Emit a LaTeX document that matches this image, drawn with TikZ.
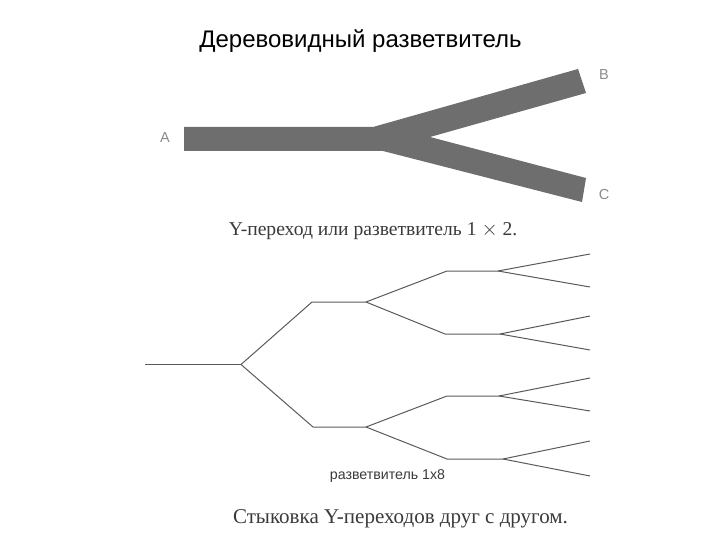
\documentclass[tikz,border=0pt]{standalone}
\usepackage{fontspec}
\setmainfont{Liberation Serif}
\setsansfont{Liberation Sans}
\definecolor{splGray}{HTML}{6E6E6E}
\definecolor{splLine}{HTML}{5A5A5A}
\definecolor{splText}{HTML}{3A3A3A}
\definecolor{splPort}{HTML}{8A8A8A}
\tikzset{
  spl title/.style={font=\sffamily\fontsize{24}{28}\selectfont, text=black},
  spl caption/.style={font=\fontsize{19.6}{22}\selectfont, text=splText},
  spl wide caption/.style={font=\fontsize{21}{24}\selectfont, text=splText},
  spl small label/.style={font=\sffamily\fontsize{14.2}{17}\selectfont, text=splText},
  spl port/.style={font=\sffamily\fontsize{14.5}{17}\selectfont, text=splPort},
  spl guide/.style={draw=splLine, line width=1pt, line join=round},
}

\begin{document}
\begin{tikzpicture}[x=1pt,y=-1pt]
  \useasboundingbox (0,0) rectangle (720,540);
  \node[spl title] (title) at (360.5,41) {Деревовидный разветвитель};

  % Top panel: the Y junction
  \fill[splGray] (184,127) -- (373,127) -- (578,69) -- (586,93) -- (430,137)
    -- (586,178) -- (582,202) -- (383,151) -- (184,151) -- cycle;
  \node[spl port] (portA) at (165,138) {A};
  \node[spl port] (portB) at (604,75) {B};
  \node[spl port] (portC) at (604,195) {C};
  \node[spl caption] (capY) at (373,231) {Y-переход или разветвитель 1 $\times$ 2.};

  % Bottom panel: the tree of junctions
  \coordinate (in) at (145,364.5);
  \coordinate (r) at (241,364.5);
  \coordinate (a1) at (312,302);
  \coordinate (a2) at (366,302);
  \coordinate (b1) at (313,427);
  \coordinate (b2) at (366,427);
  \coordinate (c1) at (447,271);
  \coordinate (c2) at (498,271);
  \coordinate (d1) at (445,334);
  \coordinate (d2) at (500,334);
  \coordinate (e1) at (447,396);
  \coordinate (e2) at (499,396);
  \coordinate (f1) at (447,459);
  \coordinate (f2) at (503,459);
  \foreach \name/\y in {1/254,2/287,3/316,4/350,5/378,6/411,7/441,8/476} {
    \coordinate (out\name) at (590,\y);
  }
  \draw[spl guide] (in) -- (r);
  \draw[spl guide] (r) -- (a1) -- (a2);
  \draw[spl guide] (r) -- (b1) -- (b2);
  \draw[spl guide] (a2) -- (c1) -- (c2);
  \draw[spl guide] (a2) -- (d1) -- (d2);
  \draw[spl guide] (b2) -- (e1) -- (e2);
  \draw[spl guide] (b2) -- (f1) -- (f2);
  \foreach \from/\to in {c2/out1,c2/out2,d2/out3,d2/out4,e2/out5,e2/out6,f2/out7,f2/out8} {
    \draw[spl guide] (\from) -- (\to);
  }
  \node[spl small label] (capTree) at (387.5,476) {разветвитель 1х8};
  \node[spl wide caption] (capJoin) at (400.5,519) {Стыковка Y-переходов друг с другом.};
\end{tikzpicture}
\end{document}
